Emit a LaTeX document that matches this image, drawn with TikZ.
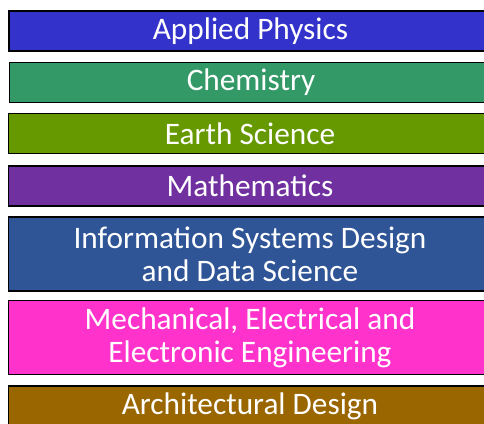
\documentclass[tikz,border=0pt]{standalone}
\usepackage{fontspec}
\setmainfont{Carlito}
\usepackage{xcolor}
\usepackage{tikz}
\usetikzlibrary{positioning}

\definecolor{physblue}{HTML}{3333CC}
\definecolor{chemgreen}{HTML}{339966}
\definecolor{earthgreen}{HTML}{669900}
\definecolor{mathpurple}{HTML}{7030A0}
\definecolor{infoblue}{HTML}{2F5597}
\definecolor{mechpink}{HTML}{FF33CC}
\definecolor{archbrown}{HTML}{996600}

\begin{document}
\begin{tikzpicture}[
    deptbox/.style={rectangle, draw=black, line width=1.8pt, fill=#1, text=white,
        minimum width=483pt, minimum height=40pt, align=center, inner sep=0pt,
        font=\fontsize{31.3}{33}\selectfont},
    tallbox/.style={deptbox=#1, minimum height=74pt},
]
\begin{scope}[x=1pt, y=-1pt]
\path[use as bounding box, clip] (0,0) rectangle (484,423);

% the bars run on past the right edge of the page
\node[deptbox=physblue] (phys) at (250.5, 31) {Applied Physics};
\node[deptbox=chemgreen] (chem) at (251, 82.5) {Chemistry};
\node[deptbox=earthgreen] (earth) at (250, 133.5) {Earth Science};
\node[deptbox=mathpurple] (math) at (250, 186) {Mathematics};
\node[tallbox=infoblue] (info) at (250, 254) {Information Systems Design\\and Data Science};
\node[tallbox=mechpink] (mech) at (250, 337.5) {Mechanical, Electrical and\\Electronic Engineering};
\node[deptbox=archbrown] (arch) at (250, 406) {Architectural Design};
\end{scope}

\end{tikzpicture}
\end{document}
